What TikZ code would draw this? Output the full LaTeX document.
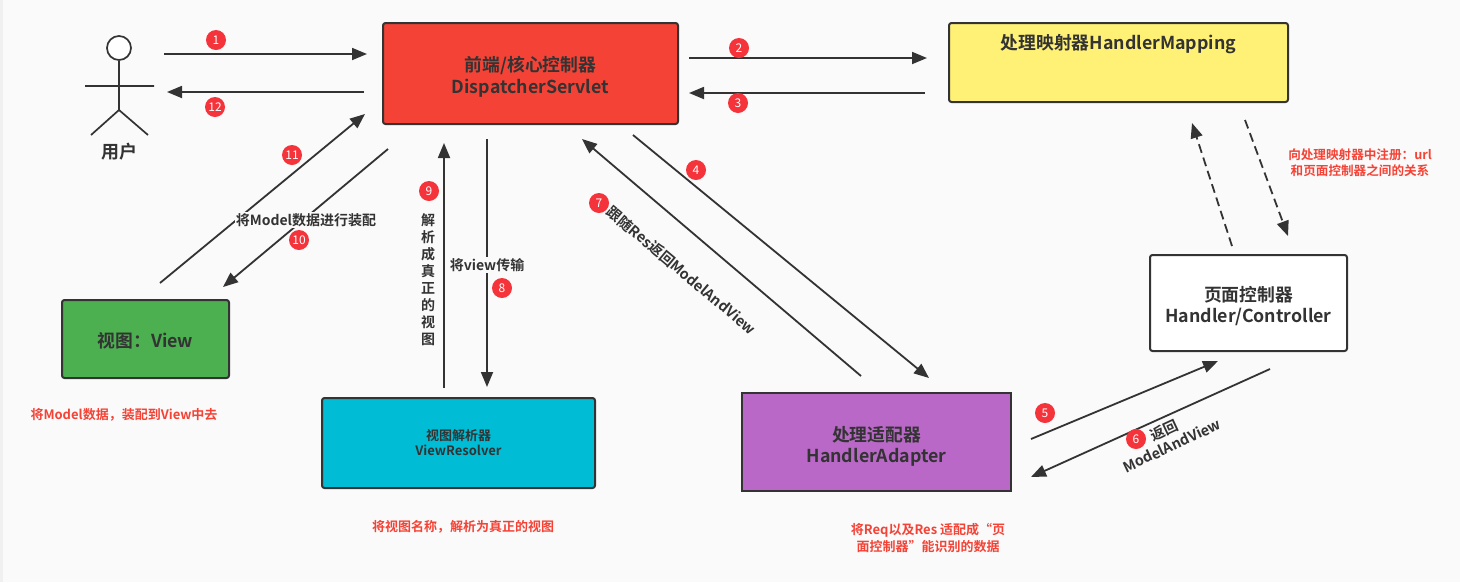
\documentclass[tikz,border=0pt]{standalone}
\usepackage{fontspec}
\setmainfont{Noto Sans CJK SC}[BoldFont={Noto Sans CJK SC Bold}]
\usetikzlibrary{arrows.meta}
\definecolor{ink}{HTML}{333333}
\definecolor{bg}{HTML}{FAFAFA}
\definecolor{redn}{HTML}{F44336}
\definecolor{yel}{HTML}{FFF176}
\definecolor{grn}{HTML}{4CAF50}
\definecolor{cyn}{HTML}{00BCD4}
\definecolor{pur}{HTML}{BA68C8}
\definecolor{badge}{HTML}{F5333A}
\definecolor{note}{HTML}{F44336}
\newcommand{\boxtext}[2]{\raisebox{#1}[\height][\depth]{\begin{tabular}{@{}c@{}}#2\end{tabular}}}
\tikzset{
  x=1pt,y=-1pt,
  boxn/.style={draw=ink,line width=2pt,rounded corners=2.5pt,align=center,font=\bfseries\fontsize{17.8}{21.5}\selectfont,text=ink,inner sep=0pt,anchor=north west},
  conn/.style={draw=ink,line width=1.8pt,-{Triangle[length=15pt,width=12pt]}},
  dash conn/.style={conn,dash pattern=on 9pt off 5pt},
  badgen/.style={circle,fill=badge,text=white,minimum size=20pt,inner sep=0pt,font=\fontsize{12}{12}\selectfont},
  notet/.style={text=note,font=\bfseries\fontsize{13}{17}\selectfont,align=center},
  labelt/.style={text=ink,font=\bfseries\fontsize{14}{17}\selectfont,align=center},
  labelbg/.style={labelt,fill=bg,inner sep=1pt},
}
\begin{document}
\begin{tikzpicture}
\useasboundingbox (0,0) rectangle (1460,582);
\fill[bg] (0,0) rectangle (1460,582);
\fill[black!6] (0,0) rectangle (3,582);
% boxes
\node[boxn,fill=redn,minimum width=295pt,minimum height=101pt] (dispatcher) at (382,22) {\boxtext{-4.5pt}{前端/核心控制器\\DispatcherServlet}};
\node[boxn,fill=yel,minimum width=339pt,minimum height=79pt] (mapping) at (948,22) {\boxtext{17pt}{处理映射器HandlerMapping}};
\node[boxn,fill=white,minimum width=197pt,minimum height=96pt] (controller) at (1149,254) {\boxtext{-4.5pt}{页面控制器\\Handler/Controller}};
\node[boxn,fill=pur,rounded corners=0pt,minimum width=269pt,minimum height=98pt] (adapter) at (741,392) {\boxtext{-5.5pt}{处理适配器\\HandlerAdapter}};
\node[boxn,fill=cyn,minimum width=273pt,minimum height=90pt,font=\bfseries\fontsize{13}{15.5}\selectfont] (resolver) at (321,397) {\boxtext{-2pt}{视图解析器\\ViewResolver}};
\node[boxn,fill=grn,minimum width=167pt,minimum height=78pt] (view) at (61,299) {\boxtext{-4pt}{视图：View}};
% actor
\node[circle,draw=ink,line width=1.7pt,fill=white,minimum size=24pt,inner sep=0pt] (head) at (119,48) {};
\coordinate (hip) at (119,110);
\coordinate (armL) at (85,86);
\coordinate (armR) at (154,86);
\coordinate (footL) at (91,135);
\coordinate (footR) at (148,135);
\draw[ink,line width=1.7pt] (head.south) -- (hip) (armL) -- (armR) (footL) -- (hip) -- (footR);
\node[text=ink,font=\bfseries\fontsize{18}{20}\selectfont] (user) at (119,152) {用户};
% arrow ends
\foreach \n/\x/\y in {
 a1s/164/54,a1e/367/54, a12s/364/92,a12e/167/92,
 a2s/689/58,a2e/927/58, a3s/925/93,a3e/689/93,
 a4s/633/135,a4e/929/378, a7s/861/376,a7e/582/139,
 a5s/1031/439,a5e/1218/361, a6s/1270/369,a6e/1031/477,
 a8s/487/139,a8e/487/387, a9s/444/388,a9e/444/143,
 a10s/388/149,a10e/223/287, a11s/160/283,a11e/365/114,
 ds/1232/246,de/1192/123, ms/1245/120,me/1288/236}
 {\coordinate (\n) at (\x,\y);}
\draw[conn] (a1s) -- (a1e);
\draw[conn] (a12s) -- (a12e);
\draw[conn] (a2s) -- (a2e);
\draw[conn] (a3s) -- (a3e);
\draw[conn] (a4s) -- (a4e);
\draw[conn] (a7s) -- (a7e);
\draw[conn] (a5s) -- (a5e);
\draw[conn] (a6s) -- (a6e);
\draw[conn] (a8s) -- (a8e);
\draw[conn] (a9s) -- (a9e);
\draw[conn] (a10s) -- (a10e);
\draw[conn] (a11s) -- (a11e);
\draw[dash conn] (ds) -- (de);
\draw[dash conn] (ms) -- (me);
% labels
\node[labelbg] (l10) at (306,220) {将Model数据进行装配};
\node[labelt] (l9) at (428,280) {解\\析\\成\\真\\正\\的\\视\\图};
\node[labelbg] (l8) at (487,265) {将view传输};
\node[labelt,rotate=-40,font=\bfseries\fontsize{14.5}{17}\selectfont] (l7) at (681.5,270.5) {跟随Res返回ModelAndView};
\node[labelt,rotate=25,font=\bfseries\fontsize{14.5}{17}\selectfont] (l6) at (1168,437.5) {返回\\ModelAndView};
\node[text=note,font=\bfseries\fontsize{12.6}{16}\selectfont,align=center] (n1) at (1360,163) {向处理映射器中注册：url\\和页面控制器之间的关系};
\node[notet] (n2) at (124,415) {将Model数据，装配到View中去};
\node[notet] (n3) at (463,527) {将视图名称，解析为真正的视图};
\node[notet] (n4) at (928,538) {将Req以及Res 适配成“页\\面控制器”能识别的数据};
% badges
\foreach \n/\x/\y/\t in {
 b1/216/40/1, b2/739/48/2, b3/738/103/3, b4/696/170/4, b5/1045/413/5, b6/1136/439/6,
 b7/599/203/7, b8/502/288/8, b9/429/191/9, b10/299/240/10, b11/292/155/11, b12/215/107/12}
 {\node[badgen] (\n) at (\x,\y) {\t};}
\end{tikzpicture}
\end{document}
